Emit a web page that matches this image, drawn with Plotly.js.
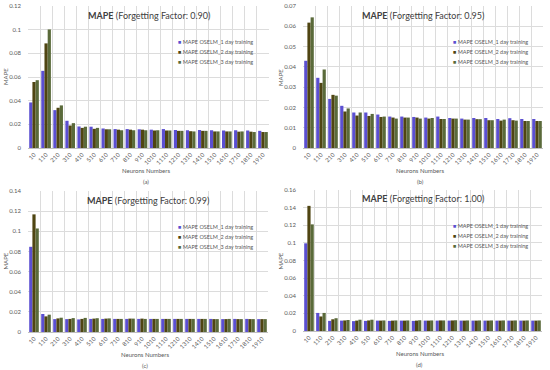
<!DOCTYPE html>
<html><head><meta charset="utf-8">
<script src="https://cdn.plot.ly/plotly-3.0.1.min.js"></script>
<style>html,body{margin:0;padding:0;background:#fff}#chart{width:550px;height:370px}</style>
</head><body><div id="chart"></div>
<script>
const categories = ['10','110','210','310','410','510','610','710','810','910','1010','1110','1210','1310','1410','1510','1610','1710','1810','1910'];
const seriesNames = ['MAPE OSELM_1 day training','MAPE OSELM_2 day training','MAPE OSELM_3 day training'];
const panelTitles = ['0.90','0.95','0.99','1.00'];
const panelLabels = ['(a)','(b)','(c)','(d)'];

// Forgetting factor 0.90
const ff090_day1 = [0.0385,0.0652,0.0320,0.0230,0.0182,0.0180,0.0165,0.0160,0.0160,0.0158,0.0155,0.0160,0.0152,0.0150,0.0152,0.0150,0.0148,0.0150,0.0148,0.0145];
const ff090_day2 = [0.0558,0.0884,0.0340,0.0190,0.0170,0.0162,0.0158,0.0155,0.0155,0.0155,0.0148,0.0148,0.0145,0.0142,0.0145,0.0140,0.0140,0.0138,0.0138,0.0135];
const ff090_day3 = [0.0573,0.1002,0.0360,0.0210,0.0180,0.0170,0.0158,0.0150,0.0150,0.0150,0.0150,0.0148,0.0145,0.0140,0.0145,0.0140,0.0140,0.0140,0.0135,0.0135];
// Forgetting factor 0.95
const ff095_day1 = [0.0430,0.0346,0.0242,0.0208,0.0175,0.0175,0.0165,0.0155,0.0155,0.0153,0.0150,0.0155,0.0148,0.0145,0.0148,0.0148,0.0143,0.0147,0.0143,0.0143];
const ff095_day2 = [0.0618,0.0321,0.0262,0.0180,0.0160,0.0158,0.0153,0.0150,0.0150,0.0150,0.0145,0.0143,0.0145,0.0140,0.0142,0.0137,0.0135,0.0137,0.0133,0.0133];
const ff095_day3 = [0.0644,0.0387,0.0258,0.0195,0.0175,0.0168,0.0155,0.0145,0.0150,0.0145,0.0148,0.0143,0.0145,0.0140,0.0142,0.0137,0.0140,0.0135,0.0133,0.0133];
// Forgetting factor 0.99
const ff099_day1 = [0.0846,0.0179,0.0128,0.0128,0.0125,0.0130,0.0130,0.0130,0.0130,0.0130,0.0130,0.0130,0.0130,0.0130,0.0130,0.0130,0.0128,0.0130,0.0130,0.0128];
const ff099_day2 = [0.1168,0.0155,0.0135,0.0130,0.0130,0.0133,0.0133,0.0130,0.0133,0.0133,0.0130,0.0130,0.0130,0.0130,0.0130,0.0128,0.0128,0.0128,0.0128,0.0128];
const ff099_day3 = [0.1028,0.0172,0.0142,0.0138,0.0140,0.0137,0.0135,0.0130,0.0133,0.0130,0.0130,0.0130,0.0130,0.0130,0.0130,0.0128,0.0130,0.0128,0.0128,0.0128];
// Forgetting factor 1.00
const ff100_day1 = [0.0995,0.0205,0.0115,0.0118,0.0112,0.0115,0.0118,0.0115,0.0118,0.0115,0.0118,0.0118,0.0118,0.0118,0.0118,0.0118,0.0118,0.0118,0.0118,0.0118];
const ff100_day2 = [0.1420,0.0165,0.0133,0.0120,0.0118,0.0120,0.0118,0.0118,0.0118,0.0118,0.0118,0.0120,0.0120,0.0118,0.0118,0.0118,0.0118,0.0118,0.0118,0.0118];
const ff100_day3 = [0.1210,0.0205,0.0145,0.0125,0.0128,0.0128,0.0120,0.0120,0.0120,0.0122,0.0120,0.0120,0.0122,0.0120,0.0120,0.0120,0.0120,0.0120,0.0120,0.0120];

const panelData = [
  [ff090_day1, ff090_day2, ff090_day3],
  [ff095_day1, ff095_day2, ff095_day3],
  [ff099_day1, ff099_day2, ff099_day3],
  [ff100_day1, ff100_day2, ff100_day3]
];
const yMax = [0.12, 0.07, 0.14, 0.16];
const yStep = [0.02, 0.01, 0.02, 0.02];

const colors = ['#5b4fd1', '#4f4512', '#5a6a3a'];
const W = 550, H = 370;
const px = v => v / W;
const py = v => 1 - v / H;

// plot-area rectangles in pixels: [left, right, top, bottom]
const boxes = [[28, 269, 6, 148], [303, 543, 6, 148], [28, 268, 191, 332], [303, 542, 190, 331]];

const traces = [];
const layout = {
  width: W, height: H,
  margin: {l: 0, r: 0, t: 0, b: 0},
  paper_bgcolor: '#ffffff', plot_bgcolor: '#ffffff',
  showlegend: false,
  barmode: 'group', bargap: 0.2, bargroupgap: 0,
  font: {family: 'Lato, "Open Sans", sans-serif', color: '#595959'},
  annotations: []
};

boxes.forEach((b, p) => {
  const sfx = p === 0 ? '' : String(p + 1);
  const [l, r, t, bt] = b;
  panelData[p].forEach((vals, s) => {
    traces.push({
      type: 'bar', x: categories, y: vals, name: seriesNames[s],
      xaxis: 'x' + sfx, yaxis: 'y' + sfx,
      marker: {color: colors[s]}, showlegend: false
    });
  });
  layout['xaxis' + sfx] = {
    domain: [px(l), px(r)], anchor: 'y' + sfx, type: 'category',
    tickson: 'boundaries', showgrid: true, gridcolor: '#dcdcdc', gridwidth: 1,
    tickangle: -45, tickfont: {size: 6, color: '#595959'}, ticks: '',
    showline: true, linecolor: '#bfbfbf', linewidth: 1,
    range: [-0.5, categories.length - 0.5], fixedrange: true
  };
  layout['yaxis' + sfx] = {
    domain: [py(bt), py(t)], anchor: 'x' + sfx,
    range: [0, yMax[p]], dtick: yStep[p], tick0: 0,
    showgrid: true, gridcolor: '#dcdcdc', gridwidth: 1,
    zeroline: false, showline: false, ticks: '',
    tickfont: {size: 6, color: '#595959'}, ticklabelstandoff: 6, fixedrange: true
  };
  const cx = (l + r) / 2 - 3;
  layout.annotations.push({
    xref: 'paper', yref: 'paper', x: px(cx + 3), y: py(t + 9), xanchor: 'center', yanchor: 'middle',
    text: '<b>MAPE</b> (Forgetting Factor: ' + panelTitles[p] + ')', showarrow: false,
    font: {size: 9, color: '#404040'}
  });
  layout.annotations.push({
    xref: 'paper', yref: 'paper', x: px(cx), y: py(bt + 22), xanchor: 'center', yanchor: 'middle',
    text: 'Neurons Numbers', showarrow: false, font: {size: 6, color: '#595959'}
  });
  layout.annotations.push({
    xref: 'paper', yref: 'paper', x: px(cx), y: py(bt + 33), xanchor: 'center', yanchor: 'middle',
    text: panelLabels[p], showarrow: false, font: {size: 6, color: '#595959'}
  });
  layout.annotations.push({
    xref: 'paper', yref: 'paper', x: px(l - 23), y: py((t + bt) / 2), xanchor: 'center', yanchor: 'middle',
    text: 'MAPE', textangle: -90, showarrow: false, font: {size: 6, color: '#595959'}
  });
  seriesNames.forEach((nm, s) => {
    layout.annotations.push({
      xref: 'paper', yref: 'paper', x: px(l + 148), y: py(t + 36 + s * 10), xanchor: 'left', yanchor: 'middle',
      text: '<span style="color:' + colors[s] + '">■</span> ' + nm, showarrow: false,
      font: {size: 5.5, color: '#595959'}
    });
  });
});

Plotly.newPlot('chart', traces, layout, {displayModeBar: false, staticPlot: true});
</script>
</body></html>
